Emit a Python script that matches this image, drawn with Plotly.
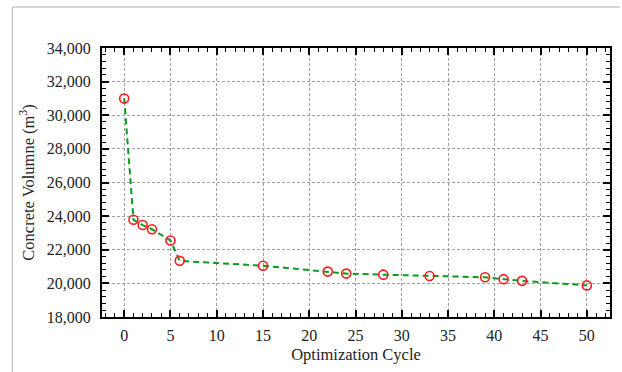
import plotly.graph_objects as go

# Concrete volume recorded at each optimization cycle
cycles = [0, 1, 2, 3, 5, 6, 15, 22, 24, 28, 33, 39, 41, 43, 50]
volume = [31000, 23780, 23470, 23220, 22550, 21340, 21050, 20700, 20580,
          20520, 20440, 20360, 20250, 20150, 19880]

x_ticks = list(range(0, 51, 5))
y_ticks = list(range(18000, 34001, 2000))

FONT = "Liberation Serif, Times New Roman, serif"
TXT = "#222"

fig = go.Figure()
fig.add_trace(go.Scatter(
    x=cycles, y=volume, mode="lines+markers",
    line=dict(color="#0a9a1e", width=2, dash="6px,4px"),
    marker=dict(symbol="circle-open", size=9, color="#ff1a1a",
                line=dict(color="#ff1a1a", width=1.6)),
    showlegend=False,
))

axis_common = dict(
    showline=True, linecolor="black", linewidth=2, mirror="ticks",
    ticks="inside", ticklen=7, tickwidth=1.5, tickcolor="black",
    showgrid=True, gridcolor="#a0a0a0", gridwidth=1, griddash="3px,2px",
    zeroline=False,
    tickfont=dict(family=FONT, size=16, color=TXT),
)

fig.update_xaxes(
    **axis_common,
    range=[-2.4, 52.5], tickvals=x_ticks, ticklabelstandoff=3,
    minor=dict(dtick=1, tick0=0, ticks="inside", ticklen=4, tickwidth=1.2,
               tickcolor="black", showgrid=False),
    title=dict(text="Optimization Cycle", font=dict(family=FONT, size=16.5, color=TXT),
               standoff=5),
)
fig.update_yaxes(
    **axis_common,
    range=[18000, 34000], tickvals=y_ticks, tickformat=",d", ticklabelstandoff=6,
    minor=dict(dtick=400, tick0=18000, ticks="inside", ticklen=4, tickwidth=1.2,
               tickcolor="black", showgrid=False),
    title=dict(text="Concrete Volumne (m<sup>3</sup>)",
               font=dict(family=FONT, size=16.5, color=TXT), standoff=8),
)

# light frame along the top and left of the figure
fig.add_shape(type="line", xref="paper", yref="paper",
              x0=-0.1765, x1=1.02, y0=1.152, y1=1.152,
              line=dict(color="#c8c8c8", width=1.5))
fig.add_shape(type="line", xref="paper", yref="paper",
              x0=-0.1765, x1=-0.1765, y0=1.152, y1=-0.21,
              line=dict(color="#c8c8c8", width=1.5))

fig.update_layout(
    width=622, height=372,
    margin=dict(l=102, r=10, t=48, b=55),
    paper_bgcolor="white", plot_bgcolor="white",
)

fig.write_html("out.html")
